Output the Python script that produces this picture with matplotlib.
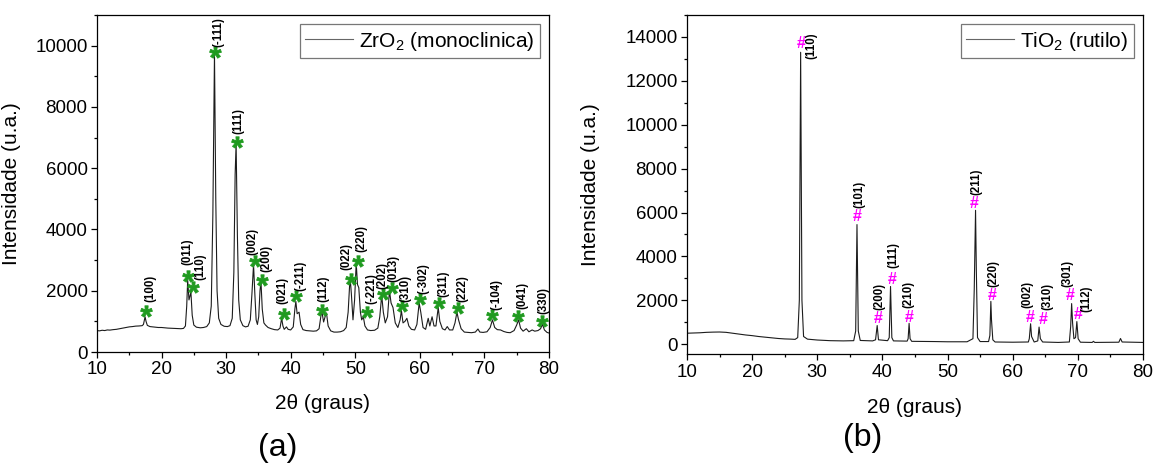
import matplotlib
matplotlib.use("Agg")
import matplotlib.pyplot as plt
from matplotlib.ticker import MultipleLocator

plt.rcParams["font.family"] = ["Liberation Sans", "DejaVu Sans"]
plt.rcParams["mathtext.fontset"] = "custom"
plt.rcParams["mathtext.rm"] = "Liberation Sans"
plt.rcParams["mathtext.bf"] = "Liberation Sans:bold"

# ------------------------------------------------------------------ #
#  (a) ZrO2 monoclinic pattern
# ------------------------------------------------------------------ #
zr_theta = [
    10.0, 10.4, 10.8, 11.2, 11.6, 12.0, 12.5, 13.0, 13.5, 14.0, 14.5, 15.0,
    15.5, 16.0, 16.5, 17.0, 17.2, 17.45, 17.6, 17.8, 18.2, 18.6, 19.0, 19.5,
    20.0, 20.5, 21.0, 21.5, 22.0, 22.5, 23.0, 23.4, 23.7, 23.9, 24.05, 24.25,
    24.55, 24.75, 25.0, 25.4, 26.0, 26.5, 27.0, 27.4, 27.7, 27.95, 28.2, 28.4,
    28.6, 28.85, 29.2, 29.7, 30.2, 30.6, 30.95, 31.2, 31.4, 31.55, 31.75, 31.95,
    32.2, 32.6, 33.0, 33.4, 33.75, 34.0, 34.25, 34.45, 34.65, 34.85, 35.05, 35.25,
    35.4, 35.6, 35.85, 36.1, 36.5, 37.0, 37.5, 38.0, 38.35, 38.6, 38.8, 39.0,
    39.35, 39.6, 40.0, 40.4, 40.65, 40.8, 41.0, 41.3, 41.55, 41.9, 42.4, 43.0,
    43.5, 44.0, 44.4, 44.7, 44.85, 45.1, 45.4, 45.55, 45.8, 46.2, 46.7, 47.2,
    47.7, 48.2, 48.6, 48.9, 49.2, 49.4, 49.65, 49.9, 50.15, 50.35, 50.55, 50.8,
    51.0, 51.25, 51.5, 51.9, 52.4, 53.0, 53.5, 53.8, 54.1, 54.35, 54.65, 55.0,
    55.3, 55.55, 55.85, 56.2, 56.6, 56.95, 57.15, 57.4, 57.7, 58.0, 58.3, 58.7,
    59.2, 59.55, 59.9, 60.15, 60.5, 60.9, 61.3, 61.55, 61.9, 62.2, 62.5, 62.85,
    63.1, 63.5, 63.9, 64.25, 64.6, 65.1, 65.45, 65.75, 66.0, 66.4, 66.9, 67.5,
    68.0, 68.6, 69.0, 69.3, 69.8, 70.4, 70.9, 71.25, 71.6, 72.0, 72.5, 73.0,
    73.5, 74.0, 74.6, 75.0, 75.3, 75.6, 76.0, 76.5, 76.9, 77.4, 77.8, 78.3,
    78.7, 79.0, 79.3, 79.7, 80.0,
]
zr_int = [
    700, 690, 710, 700, 720, 715, 730, 740, 760, 780, 800, 820,
    830, 845, 850, 860, 900, 1150, 1000, 870, 830, 820, 810, 800,
    800, 790, 780, 775, 770, 765, 760, 770, 850, 1500, 2350, 1700,
    1950, 1200, 880, 810, 790, 800, 830, 950, 1500, 4500, 9750, 5000,
    2000, 1100, 900, 840, 830, 860, 1100, 2600, 5800, 6800, 3800, 1700,
    1050, 860, 820, 840, 1050, 1900, 2850, 1900, 1050, 900, 1150, 2000,
    2300, 1400, 950, 880, 800, 760, 730, 720, 780, 1100, 850, 740,
    820, 740, 720, 820, 1400, 1650, 1250, 1300, 900, 730, 700, 690,
    680, 690, 760, 1200, 1300, 980, 1200, 1270, 850, 690, 650, 650,
    660, 700, 800, 1300, 2450, 1900, 1050, 1700, 2900, 2200, 2100, 1300,
    1050, 1150, 850, 720, 700, 710, 780, 1150, 1850, 1300, 950, 1150,
    2000, 1600, 1450, 950, 800, 1050, 1350, 950, 1000, 1100, 850, 740,
    720, 900, 1600, 1300, 800, 740, 1100, 850, 1150, 850, 850, 1450,
    1000, 760, 720, 830, 720, 720, 950, 1300, 1050, 760, 650, 640,
    630, 650, 750, 650, 640, 660, 800, 1050, 800, 730, 720, 670,
    640, 630, 700, 880, 1050, 780, 680, 760, 660, 720, 680, 700,
    760, 900, 720, 640, 620,
]

zr_hkl = ["(100)", "(011)", "(110)", "(-111)", "(111)", "(002)", "(200)",
          "(021)", "(-211)", "(112)", "(022)", "(220)", "(-221)", "(202)",
          "(013)", "(310)", "(-302)", "(311)", "(222)", "(-104)", "(041)",
          "(330)"]
zr_star_x = [17.57, 24.17, 24.95, 28.3, 31.76, 34.4, 35.5, 38.9, 40.85, 44.83,
             49.3, 50.4, 51.8, 54.28, 55.67, 57.2, 60.05, 63.04, 65.9, 71.25,
             75.28, 79.0]
zr_star_y = [1340, 2480, 2120, 9800, 6860, 2970, 2340, 1250, 1820, 1380,
             2380, 2970, 1310, 1900, 2090, 1490, 1740, 1600, 1450, 1200,
             1170, 1010]

# ------------------------------------------------------------------ #
#  (b) TiO2 rutile pattern
# ------------------------------------------------------------------ #
ti_theta = [
    10.0, 11.0, 12.0, 13.0, 14.0, 15.0, 16.0, 17.0, 18.0, 19.0, 20.0, 21.0,
    22.0, 23.0, 24.0, 25.0, 26.0, 26.6, 27.0, 27.25, 27.45, 27.65, 27.9, 28.5,
    30.0, 32.0, 34.0, 35.6, 35.9, 36.1, 36.3, 36.6, 38.5, 38.95, 39.2, 39.4,
    40.8, 41.05, 41.25, 41.45, 41.7, 43.8, 43.95, 44.1, 44.25, 44.5, 48.0, 50.0,
    53.0, 53.9, 54.1, 54.3, 54.42, 54.6, 55.0, 56.3, 56.5, 56.65, 56.75, 56.95,
    57.3, 60.0, 62.4, 62.55, 62.75, 62.9, 63.3, 63.85, 64.05, 64.25, 64.6, 67.0,
    68.7, 68.9, 69.05, 69.2, 69.4, 69.65, 69.85, 70.05, 70.4, 72.2, 72.4, 72.6,
    76.3, 76.55, 76.8, 80.0,
]
ti_int = [
    500, 510, 520, 540, 550, 555, 540, 500, 460, 420, 390, 350,
    320, 290, 260, 240, 230, 220, 300, 2000, 13300, 2000, 350, 230,
    190, 160, 150, 160, 600, 5450, 600, 170, 150, 200, 850, 200,
    160, 300, 2630, 300, 150, 140, 250, 950, 250, 130, 120, 110,
    110, 250, 2500, 6100, 3400, 300, 120, 120, 400, 1950, 1100, 200,
    100, 90, 100, 250, 930, 350, 100, 150, 780, 250, 100, 80,
    100, 800, 1850, 950, 250, 300, 1030, 250, 90, 80, 130, 80,
    90, 260, 100, 80,
]

ti_hkl = ["(110)", "(101)", "(200)", "(111)", "(210)", "(211)", "(220)",
          "(002)", "(310)", "(301)", "(112)"]
ti_mark_x = [27.55, 36.16, 39.3, 41.5, 44.15, 54.13, 56.8, 62.7, 64.64,
             68.83, 70.0]
ti_mark_y = [13700, 5820, 1190, 2930, 1230, 6430, 2230, 1220, 1140,
             2240, 1350]

STAR_GREEN = "#1f9a1f"
HASH_MAGENTA = "#ff00ff"
TRACE = "#1c1c1c"
HKL_SIZE = 8.3

# label offsets from each marker, in points (dx, dy)
zr_lab_off = [(3.1, 6.5), (-0.7, 7.7), (4.8, 4.8), (2.2, 3.6), (0.7, 5.8),
              (-1.2, 4.1), (3.6, 6.0), (-0.5, 6.7), (2.9, 3.8), (1.2, 5.5),
              (-3.4, 6.5), (2.9, 6.5), (2.9, 5.5), (-0.7, 3.6), (1.2, 4.3),
              (2.4, 3.1), (2.4, 3.6), (2.9, 4.3), (2.9, 4.1), (3.1, 3.6),
              (3.1, 5.5), (0.7, 5.3)]
ti_lab_off = [(7.2, -10.8), (1.4, 6.0), (1.0, 6.0), (0.7, 8.4), (-0.7, 6.5),
              (1.7, 6.0), (1.2, 5.8), (-1.9, 6.7), (2.9, 6.7), (-1.9, 6.0),
              (6.0, 2.2)]


def _style_axes(ax, ylim, ymajor):
    ax.set_xlim(10, 80)
    ax.set_ylim(*ylim)
    ax.xaxis.set_major_locator(MultipleLocator(10))
    ax.xaxis.set_minor_locator(MultipleLocator(5))
    ax.yaxis.set_major_locator(MultipleLocator(ymajor))
    ax.yaxis.set_minor_locator(MultipleLocator(ymajor / 2))
    ax.tick_params(which="major", direction="out", length=4.3, width=0.9,
                   labelsize=13.5, pad=2.5)
    ax.tick_params(which="minor", direction="out", length=2.5, width=0.9)
    for sp in ax.spines.values():
        sp.set_linewidth(0.9)
    ax.set_xlabel("2θ (graus)", fontsize=15)
    ax.set_ylabel("Intensidade (u.a.)", fontsize=15)


def _legend(ax, label):
    leg = ax.legend([label], loc="upper right", fontsize=15, frameon=True,
                    fancybox=False, handlelength=2.3, handletextpad=0.3,
                    borderpad=0.25, borderaxespad=0.45)
    leg.get_frame().set_edgecolor("#555555")
    leg.get_frame().set_linewidth(0.9)
    leg.get_lines()[0].set_color("#666666")
    leg.get_lines()[0].set_linewidth(0.8)


def _hkl_labels(ax, labels, xs, ys, offsets):
    for lab, x, y, (dx, dy) in zip(labels, xs, ys, offsets):
        ax.annotate(lab, (x, y), xytext=(dx, dy), textcoords="offset points",
                    rotation=90, ha="center", va="bottom", fontsize=HKL_SIZE,
                    fontweight="bold")


fig = plt.figure(figsize=(11.53, 4.65), dpi=100)

# ---------------- panel (a) ----------------
ax_a = fig.add_axes([0.0841, 0.2430, 0.3920, 0.7247])
ax_a.plot(zr_theta, zr_int, color=TRACE, lw=0.8)
_style_axes(ax_a, (0, 11000), 2000)
_legend(ax_a, "ZrO$_2$ (monoclinica)")
ax_a.plot(zr_star_x, zr_star_y, ls="none", marker=r"$\mathbf{*}$",
          ms=8.5, mew=0.6, color=STAR_GREEN)
_hkl_labels(ax_a, zr_hkl, zr_star_x, zr_star_y, zr_lab_off)
ax_a.yaxis.set_label_coords(-0.168, 0.5)
ax_a.xaxis.set_label_coords(0.5, -0.125)

# ---------------- panel (b) ----------------
ax_b = fig.add_axes([0.5958, 0.2381, 0.3955, 0.7297])
ax_b.plot(ti_theta, ti_int, color=TRACE, lw=0.8)
_style_axes(ax_b, (-460, 15000), 2000)
_legend(ax_b, "TiO$_2$ (rutilo)")
for x, y in zip(ti_mark_x, ti_mark_y):
    ax_b.text(x, y, "#", color=HASH_MAGENTA, fontsize=11.5, fontweight="bold",
              ha="center", va="center")
_hkl_labels(ax_b, ti_hkl, ti_mark_x, ti_mark_y, ti_lab_off)
ax_b.yaxis.set_label_coords(-0.19, 0.5)
ax_b.xaxis.set_label_coords(0.5, -0.128)

fig.text(0.241, 0.037, "(a)", fontsize=23, ha="center", va="center")
fig.text(0.7485, 0.058, "(b)", fontsize=23, ha="center", va="center")

fig.savefig("out.png", dpi=100)
